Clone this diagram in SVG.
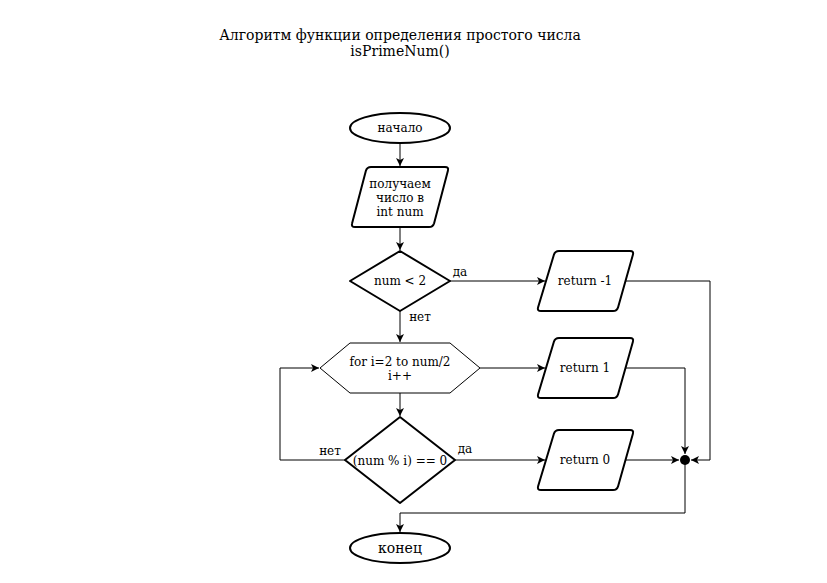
<svg xmlns="http://www.w3.org/2000/svg" width="827" height="583" viewBox="0 0 827 583">
  <style>
    text { font-family: "DejaVu Serif", "Liberation Serif", serif; fill: #000; text-anchor: middle; }
    .t { font-size: 12px; }
    .title { font-size: 14px; }
    .shape { fill: #fff; stroke: #000; stroke-width: 2; stroke-linejoin: round; }
    .thin { fill: #fff; stroke: #000; stroke-width: 1; }
    .edge { fill: none; stroke: #000; stroke-width: 1; }
  </style>
  <defs>
    <marker id="arrow" markerUnits="userSpaceOnUse" markerWidth="10" markerHeight="10" refX="8" refY="4" orient="auto">
      <path d="M0,0 L8,4 L0,8 L2,4 Z" fill="#000"/>
    </marker>
    <path id="para" d="M22 0 H93 Q97 0 95.9 3.8 L81.1 56.2 Q80 60 76 60 H4 Q0 60 1.1 56.2 L16.9 3.8 Q18 0 22 0 Z"/>
  </defs>

  <g id="title">
    <text class="title" x="400" y="40">Алгоритм функции определения простого числа</text>
    <text class="title" x="400" y="56">isPrimeNum()</text>
  </g>

  <!-- connectors -->
  <g id="connectors">
    <path class="edge" d="M400 143 V166" marker-end="url(#arrow)"/>
    <path class="edge" d="M400 227 V250" marker-end="url(#arrow)"/>
    <path class="edge" d="M450 281 H545" marker-end="url(#arrow)"/>
    <path class="edge" d="M400 311 V342" marker-end="url(#arrow)"/>
    <path class="edge" d="M625.5 281 H710 V460 H691" marker-end="url(#arrow)"/>
    <path class="edge" d="M480 368 H545" marker-end="url(#arrow)"/>
    <path class="edge" d="M625.5 368 H685 V454" marker-end="url(#arrow)"/>
    <path class="edge" d="M400 393 V416" marker-end="url(#arrow)"/>
    <path class="edge" d="M345 460 H280 V368 H319" marker-end="url(#arrow)"/>
    <path class="edge" d="M455 460 H545" marker-end="url(#arrow)"/>
    <path class="edge" d="M625.5 460 H679" marker-end="url(#arrow)"/>
    <path class="edge" d="M685 460 V513 H400 V532" marker-end="url(#arrow)"/>
    <text class="t" x="460" y="276">да</text>
    <text class="t" x="420" y="321">нет</text>
    <text class="t" x="330" y="455">нет</text>
    <text class="t" x="465" y="453">да</text>
  </g>

  <g id="start">
    <ellipse class="shape" cx="400" cy="128" rx="50" ry="15"/>
    <text class="t" x="400" y="132">начало</text>
  </g>

  <g id="input">
    <path class="shape" transform="translate(351,167) scale(1,1)" d="M20 0 H94 Q98 0 96.9 3.8 L83.1 56.2 Q82 60 78 60 H4 Q0 60 1.1 56.2 L14.9 3.8 Q16 0 20 0 Z"/>
    <text class="t" x="400" y="188">получаем</text>
    <text class="t" x="400" y="202">число в</text>
    <text class="t" x="400" y="216">int num</text>
  </g>

  <g id="check-less-two">
    <polygon class="shape" points="400,251 450,281 400,311 350,281"/>
    <text class="t" x="400" y="285">num &lt; 2</text>
  </g>

  <g id="loop">
    <polygon class="thin" points="320,368 350,343 450,343 480,368 450,393 350,393"/>
    <text class="t" x="400" y="366">for i=2 to num/2</text>
    <text class="t" x="400" y="380">i++</text>
  </g>

  <g id="check-divisible">
    <polygon class="shape" points="400,417 455,460 400,503 345,460"/>
    <text class="t" x="400" y="465">(num % i) == 0</text>
  </g>

  <g id="return-minus-one">
    <use href="#para" class="shape" transform="translate(537,251)"/>
    <text class="t" x="585" y="285">return -1</text>
  </g>

  <g id="return-one">
    <use href="#para" class="shape" transform="translate(537,338)"/>
    <text class="t" x="585" y="372">return 1</text>
  </g>

  <g id="return-zero">
    <use href="#para" class="shape" transform="translate(537,430)"/>
    <text class="t" x="585" y="464">return 0</text>
  </g>

  <g id="junction">
    <circle cx="685" cy="460" r="5" fill="#000"/>
  </g>

  <g id="end">
    <ellipse class="shape" cx="400" cy="548" rx="50" ry="15"/>
    <text class="title" x="400" y="553">конец</text>
  </g>
</svg>
